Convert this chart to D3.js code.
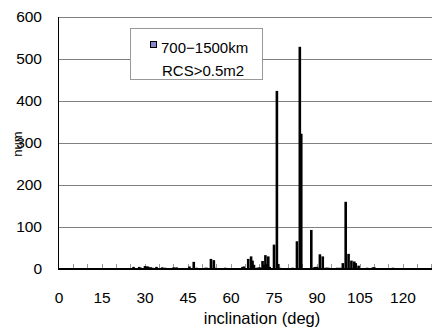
<!DOCTYPE html>
<html><head><meta charset="utf-8">
<script src="https://cdn.jsdelivr.net/npm/d3@7/dist/d3.min.js"></script>
<style>body{margin:0;background:#fff}svg{display:block;font-family:"Liberation Sans",Arial,sans-serif}</style>
</head><body>
<svg id="c" width="432" height="327"></svg>
<script>
const inclinations = [23,23.5,24,24.5,25,26,26.5,27,28,28.5,29,30,30.5,31,31.5,32,32.5,34,36,37,40,41,42.5,45.5,47,48,51,51.5,53,54,54.5,58,64,64.5,66,67,67.5,68,69,69.5,70,71,71.5,72,72.5,73,73.5,75,76,76.5,77,81.5,83,84,84.5,88,89,89.5,90,91,92,93,93.5,94,97,98,99,100,101,102,103,103.5,104.5,107.5,109.5,110,116.5];
const counts = [2,2,2,2,2,5,2,2,5,3,2,7,6,6,4,4,3,5,4,3,4,4,2,6,17,3,3,3,24,21,3,3,5,6,24,30,20,10,3,3,4,19,10,33,12,30,5,58,424,12,3,3,66,529,322,93,4,5,5,35,30,3,3,3,3,3,14,160,36,20,18,14,8,3,4,4,3];
const xTicks = [0,15,30,45,60,75,90,105,120];
const yTicks = [0,100,200,300,400,500,600];
const seriesName = "700\u22121500km";
const seriesNote = "RCS>0.5m2";

const svg = d3.select("#c");
const x = d3.scaleLinear().domain([0,130]).range([59,431.7]);
const y = d3.scaleLinear().domain([0,600]).range([269,17]);

svg.append("g").selectAll("line").data(yTicks.filter(d=>d>0)).join("line")
  .attr("x1",58).attr("x2",432).attr("y1",d=>y(d)).attr("y2",d=>y(d))
  .attr("stroke","#808080").attr("stroke-width",1).attr("shape-rendering","crispEdges");

svg.append("g").selectAll("line").data(d3.range(5,131,5)).join("line")
  .attr("x1",d=>x(d)).attr("x2",d=>x(d)).attr("y1",269).attr("y2",264)
  .attr("stroke","#999").attr("stroke-width",1).attr("shape-rendering","crispEdges");

const data = inclinations.map((d,i)=>({inc:d,n:counts[i]}));
svg.append("g").selectAll("rect").data(data).join("rect")
  .attr("x",d=>x(d.inc)-1.3).attr("width",2.6)
  .attr("y",d=>y(d.n)).attr("height",d=>y(0)-y(d.n))
  .attr("fill","#000");

svg.append("line").attr("x1",58.5).attr("x2",58.5).attr("y1",17).attr("y2",269).attr("stroke","#000");
svg.append("line").attr("x1",58).attr("x2",432).attr("y1",269).attr("y2",269).attr("stroke","#000").attr("stroke-width",2);

svg.append("g").selectAll("text").data(yTicks).join("text")
  .attr("x",42).attr("y",d=>y(d)).attr("dy","0.35em").attr("text-anchor","end")
  .attr("font-size",15.5).text(d=>d);
svg.append("g").selectAll("text").data(xTicks).join("text")
  .attr("x",d=>x(d)).attr("y",298).attr("dy","0.35em").attr("text-anchor","middle")
  .attr("font-size",15.5).text(d=>d);

svg.append("text").attr("x",262).attr("y",318).attr("dy","0.35em").attr("text-anchor","middle")
  .attr("font-size",16.5).text("inclination (deg)");
svg.append("text").attr("transform","translate(17,144) rotate(-90)").attr("dy","0.35em")
  .attr("text-anchor","middle").attr("font-size",13).text("num");

const lg = svg.append("g");
lg.append("rect").attr("x",130.5).attr("y",28.5).attr("width",132).attr("height",51)
  .attr("fill","#fff").attr("stroke","#999");
lg.append("rect").attr("x",150.5).attr("y",41.5).attr("width",6).attr("height",6)
  .attr("fill","#8888cc").attr("stroke","#000");
lg.append("text").attr("x",161).attr("y",48).attr("dy","0.35em").attr("font-size",15).text(seriesName);
lg.append("text").attr("x",162).attr("y",71).attr("dy","0.35em").attr("font-size",15).text(seriesNote);
</script>
</body></html>
